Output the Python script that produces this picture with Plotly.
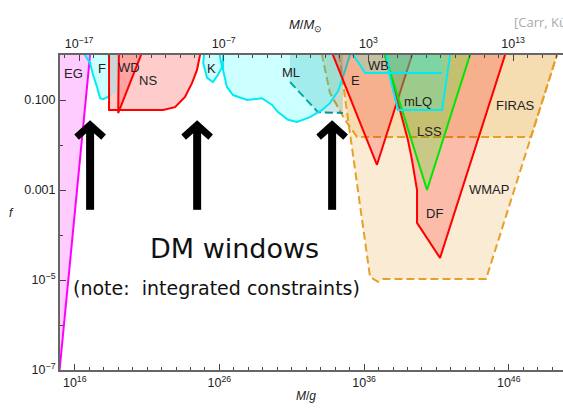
import plotly.graph_objects as go

# ---------------- data (log10 M/g , log10 f) ----------------
LOG_MSUN_G = 33.2986  # log10 of the solar mass in grams

EG_logM = [14.89, 17.12]
EG_logf = [-7.2, 0.2]

F_logM = [16.65, 16.71, 17.06, 17.26, 17.54, 17.75, 17.96, 18.30, 18.45]
F_logf = [0.3, 0.0, -0.18, -0.44, -0.71, -0.96, -0.98, -0.93, -0.88]
F_hidden_logM = [19.06, 19.06]          # part of F that lies under NS (no outline)
F_hidden_logf = [-0.84, 0.3]

NS_logM = [18.37, 18.37, 22.10, 22.93, 23.62, 24.11, 24.45, 24.66, 24.66]
NS_logf = [0.3, -1.22, -1.22, -1.16, -0.93, -0.62, -0.33, 0.0, 0.3]

WD_logM = [19.06, 19.00, 20.58, 20.58]
WD_logf = [0.3, -1.29, 0.0, 0.3]

K_logM = [25.01, 24.88, 25.15, 25.56, 25.90, 26.18, 26.04, 26.00]
K_logf = [0.3, -0.18, -0.51, -0.60, -0.44, -0.27, -0.04, 0.3]

ML_logM = [26.25, 26.25, 26.52, 26.94, 27.91, 28.94, 29.64, 30.05, 30.74, 31.36,
           32.26, 33.09, 33.64, 34.20, 34.54, 34.82, 35.02, 35.02]
ML_logf = [0.3, -0.33, -0.71, -0.89, -1.00, -0.96, -1.11, -1.27, -1.44, -1.49,
           -1.38, -1.22, -1.07, -0.80, -0.49, -0.22, 0.0, 0.3]

MLD_logM = [30.88, 32.81, 34.54]        # dashed microlensing bound
MLD_logf = [-0.60, -1.27, -1.29]

E_logM = [33.85, 33.85, 36.89, 39.31, 39.31]
E_logf = [0.3, 0.0, -2.44, 0.0, 0.3]

WB_logM = [35.23, 35.23, 35.72, 36.06, 41.39]
WB_logf = [0.3, 0.0, -0.22, -0.40, -0.40]

MLQ_logM = [37.58, 37.58, 37.72, 38.14, 38.34, 41.39, 41.94, 41.94]
MLQ_logf = [0.3, 0.0, -0.40, -1.00, -1.22, -1.22, 0.0, 0.3]

LSS_logM = [37.44, 37.44, 40.35, 43.32, 43.32]
LSS_logf = [0.3, 0.0, -3.0, 0.0, 0.3]

DF_logM = [37.44, 37.44, 38.48, 39.03, 39.31, 39.66, 39.66, 41.25, 45.74, 45.74]
DF_logf = [0.3, 0.0, -1.22, -1.89, -2.33, -3.0, -3.73, -4.51, 0.0, 0.3]

FIRAS_logM = [33.09, 33.09, 33.64, 34.68, 35.51, 47.54, 49.33, 49.33]
FIRAS_logf = [0.3, 0.0, -0.84, -1.44, -1.82, -1.82, 0.0, 0.3]

WMAP_logM = [34.27, 34.27, 36.41, 36.96, 37.31, 44.43, 49.33, 49.33]
WMAP_logf = [0.3, 0.0, -4.93, -5.04, -4.98, -4.98, 0.0, 0.3]

LABELS = ["EG", "F", "WD", "NS", "K", "ML", "E", "WB", "mLQ", "LSS", "DF", "WMAP", "FIRAS"]
LABEL_logM = [15.91, 17.89, 19.75, 21.08, 25.43, 30.95, 35.44, 37.03, 39.73, 40.52, 40.90, 44.63, 46.50]
LABEL_logf = [-0.40, -0.29, -0.27, -0.56, -0.30, -0.38, -0.56, -0.24, -1.04, -1.71, -3.53, -2.98, -1.13]

ARROW_logM = [17.06, 24.46, 33.79]
ARROW_base_logf = -3.44
ARROW_tip_logf = -1.556

X_TICKS_BOTTOM = [16, 26, 36, 46]
X_TICKS_TOP = [-17, -7, 3, 13]
Y_TICKS = [-1, -3, -5, -7]
Y_TICKTEXT = ["0.100", "0.001", "10<sup>\u22125</sup>", "10<sup>\u22127</sup>"]

X_RANGE = [14.98, 49.75]
Y_RANGE = [-7.0, 0.0]

# ---------------- styles ----------------
RED = "rgb(255,0,0)"
CYAN = "rgb(0,235,245)"
MAG = "rgb(255,0,255)"
ORANGE = "rgb(230,160,40)"
TEAL = "rgb(0,150,150)"
GREEN = "rgb(0,230,0)"
FILL_RED = "rgba(255,0,0,0.2)"
FILL_CYAN = "rgba(0,255,255,0.2)"
FILL_MAG = "rgba(255,0,255,0.2)"
FILL_OR = "rgba(230,160,40,0.2)"
FILL_TEAL = "rgba(0,140,140,0.2)"
FILL_GREEN = "rgba(0,255,0,0.2)"

def p(v):
    return [10.0 ** float(a) for a in v]

fig = go.Figure()

def fill(xs, ys, color):
    fig.add_trace(go.Scatter(x=p(xs), y=p(ys), mode="lines", fill="toself",
                             fillcolor=color, line=dict(width=0),
                             hoverinfo="skip", showlegend=False))

def line(xs, ys, color, dash="solid", width=2):
    fig.add_trace(go.Scatter(x=p(xs), y=p(ys), mode="lines",
                             line=dict(color=color, width=width, dash=dash),
                             hoverinfo="skip", showlegend=False))

# EG
fill(EG_logM + [14.5, 14.5], EG_logf + [0.3, -7.3], FILL_MAG)
line(EG_logM, EG_logf, MAG)
# FIRAS, WMAP
fill(FIRAS_logM, FIRAS_logf, FILL_OR)
line(FIRAS_logM, FIRAS_logf, ORANGE, dash="8px,4px")
fill(WMAP_logM, WMAP_logf, FILL_OR)
line(WMAP_logM, WMAP_logf, ORANGE, dash="8px,4px")
# NS, F, WD
fill(NS_logM, NS_logf, FILL_RED)
fill(F_logM + F_hidden_logM, F_logf + F_hidden_logf, FILL_CYAN)
line(F_logM, F_logf, CYAN)
line(NS_logM, NS_logf, RED)
fill(WD_logM, WD_logf, FILL_RED)
line(WD_logM, WD_logf, RED)
# K
fill(K_logM, K_logf, FILL_CYAN)
line(K_logM, K_logf, CYAN)
# ML dashed and ML
fill(MLD_logM + [MLD_logM[-1], MLD_logM[0]], MLD_logf + [0.3, 0.3], FILL_TEAL)
line(MLD_logM, MLD_logf, TEAL, dash="8px,4px")
fill(ML_logM, ML_logf, FILL_CYAN)
line(ML_logM, ML_logf, CYAN)
# E, DF
fill(E_logM, E_logf, FILL_RED)
line(E_logM, E_logf, RED)
fill(DF_logM, DF_logf, FILL_RED)
line(DF_logM, DF_logf, RED)
# LSS, mLQ, WB
fill(LSS_logM, LSS_logf, FILL_GREEN)
fill(MLQ_logM, MLQ_logf, FILL_CYAN)
fill(WB_logM + [WB_logM[-1]], WB_logf + [0.3], FILL_CYAN)
line(LSS_logM, LSS_logf, GREEN)
line(MLQ_logM, MLQ_logf, CYAN)
line(WB_logM, WB_logf, CYAN)

# dummy trace for the top axis
fig.add_trace(go.Scatter(x=[10 ** (X_RANGE[0] - LOG_MSUN_G), 10 ** (X_RANGE[1] - LOG_MSUN_G)],
                         y=[1e-9, 1e-9], xaxis="x2", yaxis="y", mode="lines",
                         line=dict(width=0), hoverinfo="skip", showlegend=False))

# labels
for t, lx, ly in zip(LABELS, LABEL_logM, LABEL_logf):
    fig.add_annotation(x=lx, y=ly, text=t, showarrow=False, xref="x", yref="y",
                       font=dict(family="Liberation Sans, Arial", size=13, color="#222"))

# arrows (paper coordinates derived from the data)
W, H = 503.0, 315.0
def xp(lm):
    return (lm - X_RANGE[0]) / (X_RANGE[1] - X_RANGE[0])
def yp(lf):
    return (lf - Y_RANGE[0]) / (Y_RANGE[1] - Y_RANGE[0])

shapes = []
for am in ARROW_logM:
    x0 = xp(am)
    yb = yp(ARROW_base_logf)
    yt = yp(ARROW_tip_logf)
    shapes.append(dict(type="line", xref="paper", yref="paper", x0=x0, x1=x0,
                       y0=yb, y1=yt - 2 / H, line=dict(color="black", width=8)))
    path = "M {:.5f},{:.5f} L {:.5f},{:.5f} L {:.5f},{:.5f}".format(
        x0 - 13.5 / W, yt - 12 / H, x0, yt, x0 + 13.5 / W, yt - 12 / H)
    shapes.append(dict(type="path", xref="paper", yref="paper", path=path,
                       line=dict(color="black", width=7)))

fig.add_annotation(x=27.03, y=-4.29, text="DM windows", showarrow=False,
                   font=dict(family="DejaVu Sans", size=27, color="#111"))
fig.add_annotation(x=25.78, y=-5.18, text="(note:  integrated constraints)", showarrow=False,
                   font=dict(family="DejaVu Sans", size=19, color="#111"))

# axis titles
fig.add_annotation(xref="paper", yref="paper", x=(306 - 60) / W, y=(370 - 405) / H,
                   text="<i>M</i>/<i>g</i>", showarrow=False,
                   font=dict(family="Liberation Sans, Arial", size=12, color="#222"))
fig.add_annotation(xref="paper", yref="paper", x=(7 - 60) / W, y=(370 - 213) / H,
                   text="<i>f</i>", showarrow=False,
                   font=dict(family="Liberation Sans, Arial", size=12, color="#222"))
fig.add_annotation(xref="paper", yref="paper", x=(305 - 60) / W, y=(370 - 15) / H,
                   text="<i>M</i>/<i>M</i><sub>\u2299</sub>", showarrow=False,
                   font=dict(family="Liberation Sans, Arial", size=13, color="#222"))
fig.add_annotation(xref="paper", yref="paper", x=(512 - 60) / W, y=(370 - 11) / H,
                   xanchor="left", text="[Carr, Kühnel, Sandstad 2016]", showarrow=False,
                   font=dict(family="Open Sans, Liberation Sans", size=13, color="#aaa"))

tickfont = dict(family="Liberation Sans, Arial", size=12.5, color="#222")
axcommon = dict(type="log", showgrid=False, zeroline=False, showline=True, linecolor="#666",
                linewidth=2, ticks="inside", ticklen=6, tickwidth=1.2, tickcolor="#444",
                tickfont=tickfont, tickmode="array")

fig.update_layout(
    width=563, height=411,
    margin=dict(l=60, r=0, t=55, b=41),
    plot_bgcolor="white", paper_bgcolor="white",
    showlegend=False,
    shapes=shapes,
    xaxis=dict(range=X_RANGE, tickvals=p(X_TICKS_BOTTOM),
               ticktext=["10<sup>%d</sup>" % v for v in X_TICKS_BOTTOM],
               minor=dict(tickvals=p(list(range(15, 50))), ticks="inside", ticklen=3,
                          tickcolor="#444", showgrid=False),
               **axcommon),
    xaxis2=dict(range=[X_RANGE[0] - LOG_MSUN_G, X_RANGE[1] - LOG_MSUN_G], overlaying="x",
                side="top", anchor="y", tickvals=p(X_TICKS_TOP),
                ticktext=["10<sup>%s</sup>" % (str(v).replace("-", "\u2212")) for v in X_TICKS_TOP],
                minor=dict(tickvals=p(list(range(-18, 17))), ticks="inside", ticklen=3,
                           tickcolor="#444", showgrid=False),
                **axcommon),
    yaxis=dict(range=Y_RANGE, tickvals=p(Y_TICKS), ticktext=Y_TICKTEXT,
               minor=dict(tickvals=p([-6, -4, -2, 0]), ticks="inside", ticklen=3,
                          tickcolor="#444", showgrid=False),
               **axcommon),
)

fig.write_html("out.html")
